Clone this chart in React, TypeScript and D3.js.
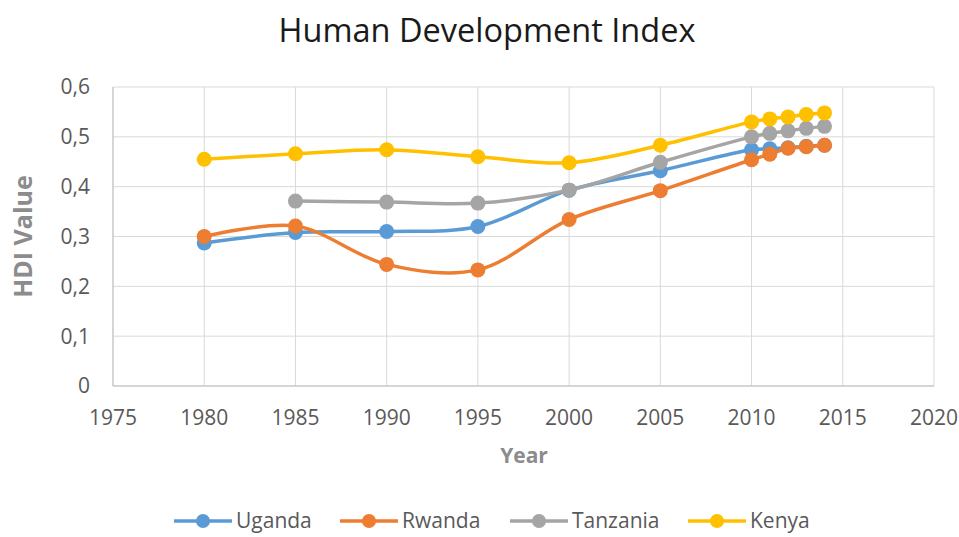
import React from "react";
import * as d3 from "d3";

const years = [1980, 1985, 1990, 1995, 2000, 2005, 2010, 2011, 2012, 2013, 2014];
const uganda = [0.287, 0.308, 0.31, 0.32, 0.393, 0.432, 0.474, 0.476, 0.478, 0.481, 0.483];
const rwanda = [0.3, 0.321, 0.244, 0.233, 0.334, 0.392, 0.454, 0.465, 0.477, 0.48, 0.483];
const tanzaniaYears = [1985, 1990, 1995, 2000, 2005, 2010, 2011, 2012, 2013, 2014];
const tanzania = [0.371, 0.369, 0.367, 0.393, 0.449, 0.5, 0.507, 0.512, 0.517, 0.521];
const kenya = [0.455, 0.466, 0.474, 0.46, 0.448, 0.483, 0.53, 0.536, 0.54, 0.545, 0.548];

const xTicks = [1975, 1980, 1985, 1990, 1995, 2000, 2005, 2010, 2015, 2020];
const yTicks = [0, 0.1, 0.2, 0.3, 0.4, 0.5, 0.6];
const yTickLabels = ["0", "0,1", "0,2", "0,3", "0,4", "0,5", "0,6"];

const series = [
  { name: "Uganda", xs: years, ys: uganda, color: "#5b9bd5" },
  { name: "Rwanda", xs: years, ys: rwanda, color: "#ed7d31" },
  { name: "Tanzania", xs: tanzaniaYears, ys: tanzania, color: "#a5a5a5" },
  { name: "Kenya", xs: years, ys: kenya, color: "#ffc000" },
];

const font = "'Open Sans', 'Noto Sans', sans-serif";

export default function App() {
  const width = 959;
  const height = 537;
  const margin = { top: 87, right: 25, bottom: 151, left: 113 };

  const x = d3.scaleLinear().domain([1975, 2020]).range([margin.left, width - margin.right]);
  const y = d3.scaleLinear().domain([0, 0.6]).range([height - margin.bottom, margin.top]);

  const line = d3
    .line<[number, number]>()
    .x((d) => x(d[0]))
    .y((d) => y(d[1]))
    .curve(d3.curveCatmullRom.alpha(0.5));

  // legend entry start positions (line left edge)
  const legendX = [174, 340, 510, 688];

  return (
    <svg
      width={width}
      height={height}
      style={{ position: "absolute", left: 0, top: 0, background: "#fff" }}
      fontFamily={font}
    >
      {/* gridlines */}
      {yTicks.map((t) => (
        <line key={"gy" + t} x1={x(1975)} x2={x(2020)} y1={y(t)} y2={y(t)} stroke="#d9d9d9" strokeWidth={1} />
      ))}
      {xTicks.map((t) => (
        <line key={"gx" + t} x1={x(t)} x2={x(t)} y1={y(0)} y2={y(0.6)} stroke="#d9d9d9" strokeWidth={1} />
      ))}
      {/* axis lines */}
      <line x1={x(1975)} x2={x(1975)} y1={y(0)} y2={y(0.6)} stroke="#bfbfbf" />
      <line x1={x(1975)} x2={x(2020)} y1={y(0)} y2={y(0)} stroke="#bfbfbf" />

      {/* tick labels */}
      {yTicks.map((t, i) => (
        <text key={"ty" + t} x={90} y={y(t)} dy="0.35em" textAnchor="end" fontSize={21} fill="#595959">
          {yTickLabels[i]}
        </text>
      ))}
      {xTicks.map((t) => (
        <text key={"tx" + t} x={x(t)} y={425} textAnchor="middle" fontSize={21} fill="#595959">
          {t}
        </text>
      ))}

      {/* titles */}
      <text x={487} y={42} textAnchor="middle" fontSize={32.5} fill="#1a1a1a">
        Human Development Index
      </text>
      <text x={524} y={463} textAnchor="middle" fontSize={21} fontWeight="bold" fill="#8c8c8c">
        Year
      </text>
      <text
        transform={`translate(32,${y(0.3)}) rotate(-90)`}
        textAnchor="middle"
        fontSize={25}
        fontWeight="bold"
        fill="#8c8c8c"
      >
        HDI Value
      </text>

      {/* series */}
      {series.map((s) => {
        const pts = s.xs.map((xv, i) => [xv, s.ys[i]] as [number, number]);
        return (
          <g key={s.name}>
            <path d={line(pts) || ""} fill="none" stroke={s.color} strokeWidth={3.5} strokeLinecap="round" />
            {pts.map((p, i) => (
              <circle key={i} cx={x(p[0])} cy={y(p[1])} r={7.5} fill={s.color} />
            ))}
          </g>
        );
      })}

      {/* legend */}
      {series.map((s, i) => (
        <g key={"lg" + s.name} transform={`translate(${legendX[i]},521)`}>
          <line x1={0} x2={58} y1={0} y2={0} stroke={s.color} strokeWidth={3.5} />
          <circle cx={29} cy={0} r={7} fill={s.color} />
          <text x={62} y={0} dy="0.35em" fontSize={21} fill="#595959">
            {s.name}
          </text>
        </g>
      ))}
    </svg>
  );
}
